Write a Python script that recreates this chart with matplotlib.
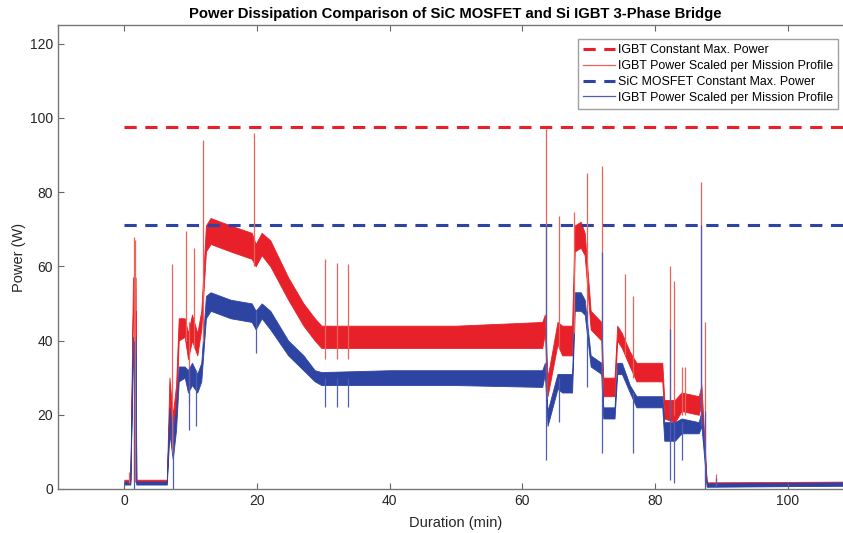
import numpy as np
import matplotlib
matplotlib.use('Agg')
import matplotlib.pyplot as plt
from matplotlib.lines import Line2D

plt.rcParams['font.family'] = ['Liberation Sans', 'DejaVu Sans']

# constant max power levels (W)
igbt_max = 97.6
sic_max = 71.0

# mission-profile power, noisy band read as lower / upper envelope
igbt_t  = [0, 0.9, 1.3, 1.7, 1.8, 6.4, 6.8, 7.3, 7.8, 8.2, 9.1, 9.6, 10.2, 11.0, 11.6, 12.3, 13.0, 16.0,
           19.2, 19.8, 20.7, 22.0, 24.7, 27.0, 28.7, 29.7, 40, 50, 63.0, 63.4, 63.8, 65.3, 66.0, 67.5,
           67.9, 68.8, 69.4, 70.3, 71.9, 72.2, 73.9, 74.3, 75.0, 76.2, 77.2, 81.1, 81.4, 83.0, 84.0,
           86.6, 87.0, 87.8, 110]
igbt_lo = [1.5, 1.5, 48, 48, 1.5, 1.5, 22, 12, 20, 40, 41, 35, 40, 36, 43, 64, 66, 64,
           62, 60, 63, 60, 51, 44, 40, 38, 38, 38, 38, 42, 25, 39, 36, 36,
           64, 65, 63, 43, 40, 25, 25, 40, 38, 33, 29, 29, 19, 18, 21,
           20, 23, 0.8, 1.0]
igbt_hi = [2.5, 2.5, 57, 57, 2.5, 2.5, 30, 20, 28, 46, 46, 42, 47, 42, 48, 71, 73, 71,
           69, 66, 69, 67, 57, 50, 46, 44, 44, 44, 45, 47, 30, 45, 44, 44,
           71, 72, 69, 48, 45, 30, 30, 44, 42, 37, 34, 34, 24, 24, 26,
           25, 28, 1.8, 2.0]

sic_t  = igbt_t
sic_lo = [1.2, 1.2, 36, 36, 1.2, 1.2, 15, 8, 16, 29, 30, 26, 28, 26, 29, 46, 48, 46,
          45, 43, 46, 43, 36, 32, 29, 28, 28, 28, 27.5, 31, 17, 27, 26, 26,
          48, 48, 47, 33, 31, 19, 19, 31, 31, 26, 22, 22, 13, 13, 15,
          15, 17, 0.6, 0.9]
sic_hi = [2.0, 2.0, 41, 41, 2.0, 2.0, 22, 14, 22, 33, 33, 32, 34, 31, 34, 52, 53, 51,
          50, 48, 50, 48, 40, 36, 32, 31.5, 32, 32, 32, 34, 21, 31, 31, 31,
          53, 53, 51, 36, 34, 22, 22, 34, 34, 28, 25, 25, 18, 18, 19,
          18, 21, 1.5, 1.8]

# transient spikes: time, bottom, top
igbt_spike_t   = [0.7, 1.4, 1.6, 7.2, 9.35, 9.75, 10.45, 11.9, 19.55, 30.3, 32.0, 33.7, 63.6, 65.6,
                  67.8, 69.8, 72.0, 75.5, 76.7, 82.3, 82.8, 84.1, 84.5, 87.0, 87.6, 89.2]
igbt_spike_bot = [1.5, 2, 2, 10, 40, 23, 38, 40, 60, 35, 35, 35, 28, 38,
                  42, 45, 27, 36, 30, 20, 20, 20, 20, 23, 2, 1]
igbt_spike_top = [4.5, 68, 67, 60.5, 69.5, 45, 65, 94, 96, 62, 61, 60.5, 97, 73.5,
                  74.6, 85, 87, 58, 52, 60, 56, 33, 33, 82.7, 45, 4]

sic_spike_t   = [1.5, 7.3, 9.75, 10.85, 19.9, 30.3, 32.0, 33.7, 63.6, 65.6, 69.8, 72.0, 76.7,
                 82.3, 82.8, 84.0, 87.0, 87.6, 89.2]
sic_spike_bot = [0, 0, 16, 17, 36.7, 22, 22, 22, 7.8, 18, 27.6, 9.7, 9.7,
                 2.4, 1.6, 7.8, 17, 0, 0.5]
sic_spike_top = [40, 20, 33, 32, 48, 30, 30, 30, 71, 30, 48, 63.8, 26,
                 43, 18, 18, 71, 21, 3]

red = '#e8202a'
blue = '#2e44a2'
red_thin = '#ee6258'
blue_thin = '#4f5db3'
dash = (0, (4.0, 2.8))

fig = plt.figure(figsize=(8.43, 5.33), dpi=100)
ax = fig.add_axes([58 / 843, 44 / 533, 796 / 843, 464 / 533])

ax.hlines(igbt_max, 0, 110, colors=red, linewidth=2.2, linestyle=dash)
ax.hlines(sic_max, 0, 110, colors=blue, linewidth=2.2, linestyle=dash)

ax.fill_between(igbt_t, igbt_lo, igbt_hi, color=red, linewidth=0.6, edgecolor=red)
ax.vlines(igbt_spike_t, igbt_spike_bot, igbt_spike_top, colors=red_thin, linewidth=0.9)

ax.fill_between(sic_t, sic_lo, sic_hi, color=blue, linewidth=0.6, edgecolor=blue)
ax.vlines(sic_spike_t, sic_spike_bot, sic_spike_top, colors=blue_thin, linewidth=0.9)

ax.set_xlim(-10, 110)
ax.set_ylim(0, 125)
ax.set_xticks([0, 20, 40, 60, 80, 100])
ax.set_yticks([0, 20, 40, 60, 80, 100, 120])
ax.tick_params(direction='in', top=True, right=True, length=4, color='#666666',
               labelsize=10, labelcolor='#262626')
for s in ax.spines.values():
    s.set_color('#777777')
    s.set_linewidth(1.0)

ax.set_xlabel('Duration (min)', fontsize=10.5, color='#262626', labelpad=6)
ax.set_ylabel('Power (W)', fontsize=10.5, color='#262626', labelpad=3)
fig.text(455 / 843, 1 - 14 / 533, 'Power Dissipation Comparison of SiC MOSFET and Si IGBT 3-Phase Bridge',
         ha='center', va='center', fontsize=10.7, fontweight='bold')

handles = [
    Line2D([], [], color=red, linewidth=2.2, linestyle=dash),
    Line2D([], [], color=red_thin, linewidth=0.9),
    Line2D([], [], color=blue, linewidth=2.2, linestyle=dash),
    Line2D([], [], color=blue_thin, linewidth=0.9),
]
labels = ['IGBT Constant Max. Power', 'IGBT Power Scaled per Mission Profile',
          'SiC MOSFET Constant Max. Power', 'IGBT Power Scaled per Mission Profile']
leg = fig.legend(handles, labels, loc='upper right', bbox_to_anchor=(838 / 843, 1 - 39 / 533),
                 fontsize=8.9, frameon=True, fancybox=False, borderaxespad=0,
                 handlelength=2.6, handletextpad=0.2, labelspacing=0.32, borderpad=0.4)
leg.get_frame().set_edgecolor('#888888')
leg.get_frame().set_linewidth(1.0)

fig.savefig('out.png', dpi=100)
